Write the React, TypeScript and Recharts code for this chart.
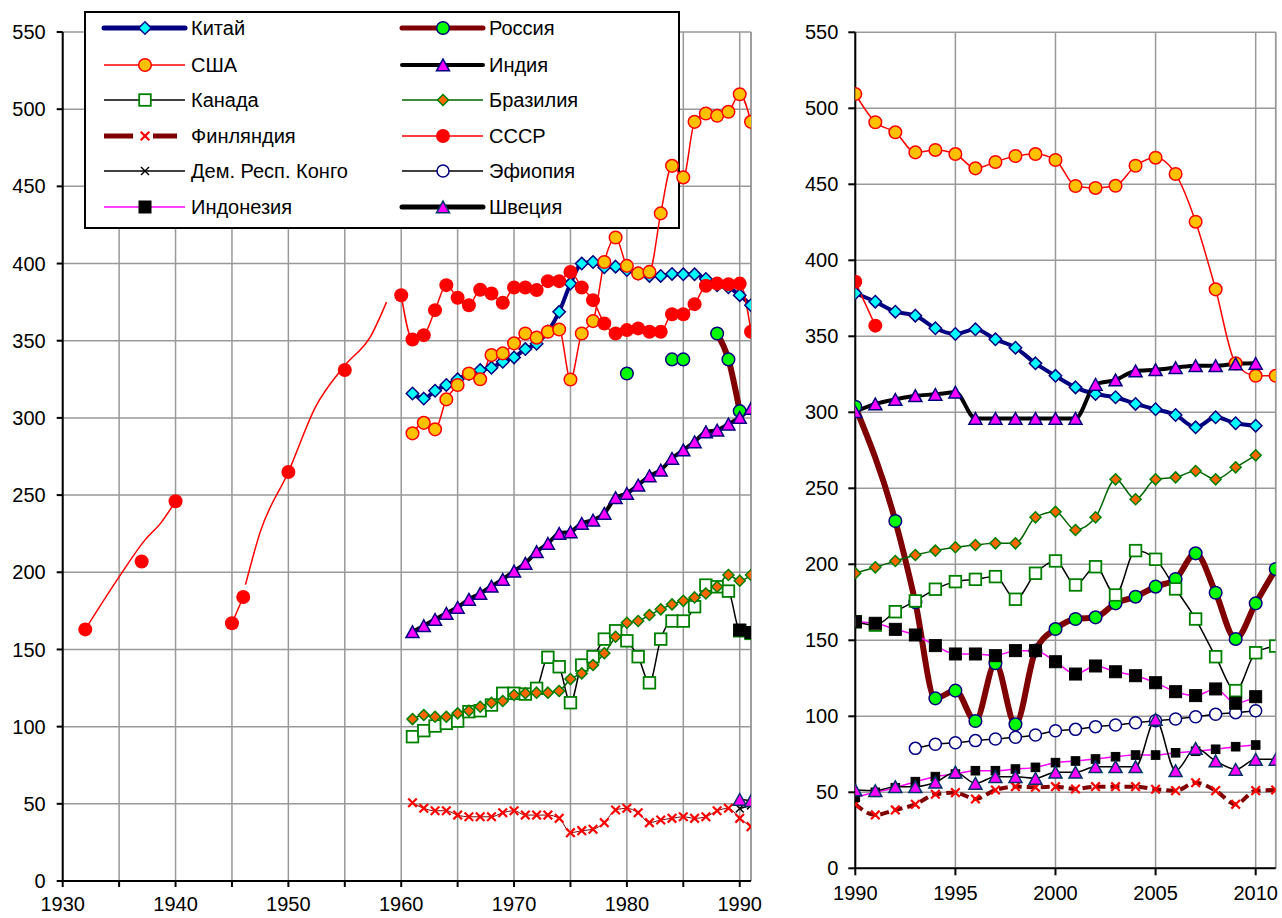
import React from 'react';
import { LineChart, Line, XAxis, YAxis, CartesianGrid, ReferenceLine } from 'recharts';

// ---------- data ----------
type Pt = { x: number; y: number | null };
const seq = (start: number, vals: (number | null)[]): Pt[] => vals.map((v, i) => ({ x: start + i, y: v }));
const pairs = (xs: number[], ys: number[]): Pt[] => xs.map((x, i) => ({ x, y: ys[i] }));

// Left panel (1930–1991)
const chinaL = [315.8, 312.5, 317.6, 321.3, 325, 328.5, 331, 332.5, 336.4, 339.2, 344.6, 348, 356, 368.7, 387, 400, 401, 397.6, 398, 395.8, 393.6, 392, 392, 393.3, 393, 393, 390, 386, 384.6, 379.5, 373]; // 1961–1991
const usaL = [290, 296.8, 292.6, 312, 321.3, 328.8, 325, 340.7, 341.8, 348.3, 354.7, 352, 355.8, 357.3, 324.9, 354.7, 362.7, 401, 416.9, 398.5, 393.6, 394.6, 432.5, 463.3, 455.8, 491.8, 497.2, 495.7, 498.3, 509.7, 491.8]; // 1961–1991
const russiaL = [328.8, null, null, null, 337.9, 337.9, null, null, 354.7, 337.9, 304.4]; // 1980–1990
const indiaL = [161.5, 165.4, 169.5, 173.4, 177.3, 182.5, 186.3, 191, 195.4, 200.8, 205.8, 213.3, 218.7, 225.2, 226.2, 231.7, 233.8, 238.2, 248.3, 251.1, 256.5, 262.5, 266.2, 273.8, 279.2, 284.5, 291, 292.1, 296, 300.3, 306.1]; // 1961–1991
const canadaL = [93.5, 97.4, 100.4, 102.1, 103.6, 109.7, 110.3, 114, 121.6, 121.6, 121.1, 124.8, 144.9, 138.8, 115.5, 139.9, 145.3, 156.7, 162.1, 155.6, 145.3, 128.4, 156.7, 168.4, 168.4, 177.7, 191.7, 190.6, 187.8, 162.1, 160.4]; // 1961–1991
const brazilL = [104.9, 107.5, 106.4, 106.4, 108.6, 110.3, 112.9, 115.5, 116.6, 120.5, 121.6, 122, 122, 123.1, 130.8, 134.5, 139.9, 147.5, 158.2, 167.3, 168.4, 172.3, 176, 179.2, 181.5, 183.7, 186.3, 190.6, 198.2, 194.5, 198.2]; // 1961–1991
const finlandL = [50.7, 47.1, 45.5, 45.5, 42.7, 41.6, 41.6, 41.6, 44.2, 45.5, 42.7, 42.7, 42.7, 40.6, 31.3, 32.6, 33.5, 37.8, 46, 47.1, 44.2, 37.8, 39.5, 40.6, 41.6, 40.6, 41.6, 45.5, 47.1, 40.6, 35.2]; // 1961–1991
const ussrL = [379.5, 350.8, 353.6, 369.8, 386, 377.8, 373, 383, 380.6, 374.6, 384.5, 384.5, 382.8, 388.6, 388.6, 394.6, 384.5, 376.3, 361.2, 354.7, 356.9, 358, 355.8, 355.8, 367.2, 367.2, 373.7, 385.6, 387, 386.6, 387, 355.8]; // 1960–1991
const ussrIsoYears = [1932, 1937, 1940, 1950, 1955];
const ussrIsoVals = [163, 207, 246, 265, 331];
const ussrWarYears = [1945, 1946];
const ussrWarVals = [167, 184];
const ussrTrend1Years = [1932, 1935, 1937.3, 1938.7, 1940];
const ussrTrend1Vals = [163, 197, 221, 232, 246];
const ussrTrend2Years = [1946.2, 1947.5, 1950, 1952.4, 1955, 1957.3, 1958.7];
const ussrTrend2Vals = [192, 226, 265, 307, 334, 353, 375];
const indonesiaL = [162.6, 161]; // 1990–1991
const swedenL = [52.9, 52]; // 1990–1991
const congoL = [47, 49]; // 1990–1991

// Right panel (1990–2011)
const usaR = [509.4, 490.8, 484.2, 471, 472.6, 469.9, 460.5, 464.7, 468.6, 469.9, 466, 448.9, 447.6, 449, 462.2, 467.5, 456.8, 425.4, 380.9, 332.2, 324, 324]; // 1990–2011
const chinaR = [378.3, 372.8, 366.2, 363.6, 355.3, 351.5, 354.6, 348, 342.5, 332.2, 324, 316.4, 312, 309.9, 305.5, 302, 298.2, 290.1, 296.7, 292.8, 291.2]; // 1990–2010
const russiaRYears = [1990, 1992, 1993, 1994, 1995, 1996, 1997, 1998, 1999, 2000, 2001, 2002, 2003, 2004, 2005, 2006, 2007, 2008, 2009, 2010, 2011];
const russiaRVals = [303.7, 228.5, 175, 111.8, 116.9, 96.9, 134.9, 94.7, 143.2, 157.4, 164, 165.1, 174.3, 178.7, 185.3, 190.3, 207.2, 181.3, 150.9, 174.3, 196.9];
const indiaR = [300.4, 305.5, 308.5, 310.9, 311.8, 313.2, 296, 296, 296, 296, 296, 296, 318.4, 321.3, 327.2, 328, 329.4, 330.7, 330.7, 331.8, 332.2]; // 1990–2010
const canadaR = [162.2, 160, 168.8, 175.9, 183.6, 188.6, 190.1, 191.9, 177, 194.1, 202.2, 186.4, 198.4, 179.8, 209, 203.3, 183.8, 164, 139.2, 116.9, 141.8, 146.2]; // 1990–2011
const brazilR = [194.1, 198, 202.2, 206.1, 209, 211.2, 212.7, 213.8, 213.8, 230.9, 234.6, 222.6, 230.9, 255.9, 242.8, 255.9, 257.2, 261.4, 255.9, 263.8, 271.7]; // 1990–2010
const finlandR = [42.1, 35.1, 38.4, 42.1, 48.7, 49.8, 45.6, 51.5, 53.7, 53.3, 53.7, 52.2, 53.7, 53.7, 53.7, 52, 51.1, 56.3, 51.1, 42.1, 51.1, 51.5]; // 1990–2011
const ussrR = [385.9, 357]; // 1990–1991
const ethiopiaR = [78.9, 81.6, 82.6, 84, 85.1, 86.2, 87.7, 90.5, 91.4, 93.2, 94.3, 95.8, 97.1, 98.2, 99.7, 101.3, 102.4, 103.7]; // 1993–2010
const indonesiaR = [162.2, 161.2, 157.2, 153.5, 146.5, 141, 141, 139.9, 143.2, 143.2, 135.9, 127.8, 133.1, 129.3, 126.7, 122.1, 116.2, 113.6, 118, 108.6, 112.9]; // 1990–2010
const indonesia2R = [46.7, 50, 53, 57, 60.3, 62, 64.2, 64.2, 65.3, 66.4, 69.5, 70.6, 71.9, 73.4, 74.5, 74.5, 76, 77, 78.3, 80, 81.1]; // 1990–2010
const swedenR = [51.5, 51.1, 53.7, 53.7, 56.6, 63.2, 55.9, 60.3, 60.3, 59.2, 63.2, 63.2, 66.8, 66.8, 66.8, 98, 64.2, 78.9, 70.6, 65.1, 71.7, 71.7]; // 1990–2011

const yTicks = [0, 50, 100, 150, 200, 250, 300, 350, 400, 450, 500, 550];
const xTicksL = [1930, 1935, 1940, 1945, 1950, 1955, 1960, 1965, 1970, 1975, 1980, 1985, 1990];
const xTicksR = [1990, 1995, 2000, 2005, 2010];

const legendLabels = ['Китай', 'Россия', 'США', 'Индия', 'Канада', 'Бразилия', 'Финляндия', 'СССР', 'Дем. Респ. Конго', 'Эфиопия', 'Индонезия', 'Швеция'];

// ---------- styles ----------
const FONT = '"Liberation Sans", Arial, sans-serif';
type Shape = 'circle' | 'diamond' | 'triangle' | 'square' | 'x';
type MStyle = { shape: Shape; size: number; fill: string; stroke: string; sw: number };

const M: Record<string, MStyle> = {
  china: { shape: 'diamond', size: 6.2, fill: '#00FFFF', stroke: '#000080', sw: 1.5 },
  russia: { shape: 'circle', size: 6.3, fill: '#00FF00', stroke: '#000080', sw: 1.5 },
  usa: { shape: 'circle', size: 6.3, fill: '#FFC000', stroke: '#FF0000', sw: 1.5 },
  india: { shape: 'triangle', size: 6.5, fill: '#FF00FF', stroke: '#000080', sw: 1.5 },
  canada: { shape: 'square', size: 5.8, fill: '#FFFFFF', stroke: '#008000', sw: 1.8 },
  brazil: { shape: 'diamond', size: 5.5, fill: '#FF6600', stroke: '#008000', sw: 1.5 },
  finland: { shape: 'x', size: 4.3, fill: 'none', stroke: '#FF0000', sw: 2.2 },
  ussr: { shape: 'circle', size: 7, fill: '#FF0000', stroke: 'none', sw: 0 },
  congo: { shape: 'x', size: 4, fill: 'none', stroke: '#000000', sw: 1.5 },
  ethiopia: { shape: 'circle', size: 6, fill: '#FFFFFF', stroke: '#000080', sw: 1.5 },
  indonesia: { shape: 'square', size: 6, fill: '#000000', stroke: '#000000', sw: 1 },
  indonesia2: { shape: 'square', size: 4.3, fill: '#000000', stroke: '#000000', sw: 1 },
  sweden: { shape: 'triangle', size: 6.5, fill: '#FF00FF', stroke: '#003366', sw: 1.5 },
};

function drawMarker(s: MStyle, cx: number, cy: number, key?: string) {
  const z = s.size;
  switch (s.shape) {
    case 'circle':
      return <circle key={key} cx={cx} cy={cy} r={z} fill={s.fill} stroke={s.stroke} strokeWidth={s.sw} />;
    case 'diamond':
      return <polygon key={key} points={`${cx},${cy - z} ${cx + z},${cy} ${cx},${cy + z} ${cx - z},${cy}`} fill={s.fill} stroke={s.stroke} strokeWidth={s.sw} />;
    case 'triangle': {
      const h = z * 0.9;
      return <polygon key={key} points={`${cx},${cy - h} ${cx + z},${cy + h} ${cx - z},${cy + h}`} fill={s.fill} stroke={s.stroke} strokeWidth={s.sw} />;
    }
    case 'square':
      return <rect key={key} x={cx - z} y={cy - z} width={2 * z} height={2 * z} fill={s.fill} stroke={s.stroke} strokeWidth={s.sw} />;
    case 'x':
      return (
        <g key={key} stroke={s.stroke} strokeWidth={s.sw}>
          <line x1={cx - z} y1={cy - z} x2={cx + z} y2={cy + z} />
          <line x1={cx - z} y1={cy + z} x2={cx + z} y2={cy - z} />
        </g>
      );
  }
  return <g key={key} />;
}

const dotFn = (s: MStyle, tag: string) => (p: any) => {
  const k = `${tag}-${p.index}`;
  if (p.cx == null || p.cy == null || p.value == null || (Array.isArray(p.value) && p.value[1] == null)) return <g key={k} />;
  if (p.payload && p.payload.y == null) return <g key={k} />;
  return drawMarker(s, p.cx, p.cy, k);
};

type SeriesDef = { key: string; data: Pt[]; m: MStyle | null; color: string; width: number; dash?: string };

const seriesLeft: SeriesDef[] = [
  { key: 'chinaL', data: seq(1961, chinaL), m: M.china, color: '#000080', width: 4 },
  { key: 'russiaL', data: seq(1980, russiaL), m: M.russia, color: '#800000', width: 6 },
  { key: 'usaL', data: seq(1961, usaL), m: M.usa, color: '#FF0000', width: 1.5 },
  { key: 'indiaL', data: seq(1961, indiaL), m: M.india, color: '#000000', width: 4 },
  { key: 'canadaL', data: seq(1961, canadaL), m: M.canada, color: '#000000', width: 1.5 },
  { key: 'brazilL', data: seq(1961, brazilL), m: M.brazil, color: '#006400', width: 1.5 },
  { key: 'finlandL', data: seq(1961, finlandL), m: M.finland, color: '#800000', width: 1 },
  { key: 'ussrTrend1', data: pairs(ussrTrend1Years, ussrTrend1Vals), m: null, color: '#FF0000', width: 1.5 },
  { key: 'ussrTrend2', data: pairs(ussrTrend2Years, ussrTrend2Vals), m: null, color: '#FF0000', width: 1.5 },
  { key: 'ussrIso', data: pairs(ussrIsoYears, ussrIsoVals), m: M.ussr, color: 'none', width: 0 },
  { key: 'ussrWar', data: pairs(ussrWarYears, ussrWarVals), m: M.ussr, color: '#FF0000', width: 1.5 },
  { key: 'ussrL', data: seq(1960, ussrL), m: M.ussr, color: '#FF0000', width: 1.5 },
  { key: 'congoL', data: seq(1990, congoL), m: M.congo, color: '#000000', width: 1.5 },
  { key: 'indonesiaL', data: seq(1990, indonesiaL), m: M.indonesia, color: '#FF00FF', width: 1.5 },
  { key: 'swedenL', data: seq(1990, swedenL), m: M.sweden, color: '#000000', width: 1.5 },
];

const seriesRight: SeriesDef[] = [
  { key: 'chinaR', data: seq(1990, chinaR), m: M.china, color: '#000080', width: 4 },
  { key: 'russiaR', data: pairs(russiaRYears, russiaRVals), m: M.russia, color: '#800000', width: 6 },
  { key: 'usaR', data: seq(1990, usaR), m: M.usa, color: '#FF0000', width: 1.5 },
  { key: 'indiaR', data: seq(1990, indiaR), m: M.india, color: '#000000', width: 4 },
  { key: 'canadaR', data: seq(1990, canadaR), m: M.canada, color: '#000000', width: 1.5 },
  { key: 'brazilR', data: seq(1990, brazilR), m: M.brazil, color: '#006400', width: 1.5 },
  { key: 'finlandR', data: seq(1990, finlandR), m: M.finland, color: '#800000', width: 4, dash: '9 5' },
  { key: 'ussrR', data: seq(1990, ussrR), m: M.ussr, color: '#FF0000', width: 1.5 },
  { key: 'ethiopiaR', data: seq(1993, ethiopiaR), m: M.ethiopia, color: '#000000', width: 1.5 },
  { key: 'indonesiaR', data: seq(1990, indonesiaR), m: M.indonesia, color: '#FF00FF', width: 1.5 },
  { key: 'indonesia2R', data: seq(1990, indonesia2R), m: M.indonesia2, color: '#FF00FF', width: 1.5 },
  { key: 'swedenR', data: seq(1990, swedenR), m: M.sweden, color: '#000000', width: 1.5 },
];

const tickStyle = { fontSize: 20, fill: '#000', fontFamily: FONT };
const axisStyle = { stroke: '#000', strokeWidth: 2 };

function renderSeries(list: SeriesDef[]) {
  return list.map((s) => (
    <Line
      key={s.key}
      data={s.data}
      dataKey="y"
      type="monotone"
      stroke={s.color}
      strokeWidth={s.width}
      strokeDasharray={s.dash}
      dot={s.m ? dotFn(s.m, s.key) : false}
      activeDot={false}
      connectNulls={false}
      isAnimationActive={false}
      legendType="none"
    />
  ));
}

// ---------- legend ----------
type LegItem = { label: string; m: MStyle; color: string; width: number; dashed?: boolean };
const legendItems: LegItem[] = [
  { label: legendLabels[0], m: M.china, color: '#000080', width: 5 },
  { label: legendLabels[1], m: M.russia, color: '#800000', width: 5 },
  { label: legendLabels[2], m: M.usa, color: '#FF0000', width: 1.5 },
  { label: legendLabels[3], m: M.india, color: '#000000', width: 4 },
  { label: legendLabels[4], m: M.canada, color: '#000000', width: 1.5 },
  { label: legendLabels[5], m: M.brazil, color: '#006400', width: 1.5 },
  { label: legendLabels[6], m: M.finland, color: '#800000', width: 5, dashed: true },
  { label: legendLabels[7], m: M.ussr, color: '#FF0000', width: 1.5 },
  { label: legendLabels[8], m: M.congo, color: '#000000', width: 1.5 },
  { label: legendLabels[9], m: M.ethiopia, color: '#000000', width: 1.5 },
  { label: legendLabels[10], m: M.indonesia, color: '#FF00FF', width: 1.5 },
  { label: legendLabels[11], m: M.sweden, color: '#000000', width: 5 },
];

function Legend() {
  const rowY = [28, 65, 100, 136, 171, 207];
  const colX = [104, 402];
  return (
    <svg width={780} height={240} style={{ position: 'absolute', left: 0, top: 0, pointerEvents: 'none' }}>
      <rect x={85} y={12} width={594} height={216} fill="#fff" stroke="#000" strokeWidth={2} />
      {legendItems.map((it, i) => {
        const row = Math.floor(i / 2);
        const col = i % 2;
        const x0 = colX[col];
        const y = rowY[row];
        const mx = x0 + 41;
        return (
          <g key={it.label}>
            {it.dashed ? (
              <g stroke={it.color} strokeWidth={it.width}>
                <line x1={x0} y1={y} x2={x0 + 29} y2={y} />
                <line x1={x0 + 49} y1={y} x2={x0 + 73} y2={y} />
              </g>
            ) : (
              <line x1={x0} y1={y} x2={x0 + 81} y2={y} stroke={it.color} strokeWidth={it.width} strokeLinecap={it.width > 3 ? 'round' : 'butt'} />
            )}
            {drawMarker(it.m, mx, y)}
            <text x={x0 + 87} y={y + 7} fontSize={20} fontFamily={FONT} fill="#000">{it.label}</text>
          </g>
        );
      })}
    </svg>
  );
}

export default function App() {
  return (
    <div style={{ position: 'absolute', left: 0, top: 0, width: 1282, height: 918, background: '#fff' }}>
      {/* left panel: grid and axes */}
      <div style={{ position: 'absolute', left: 0, top: 0 }}>
        <LineChart width={780} height={918} margin={{ top: 32, right: 29, bottom: 7, left: 12.7 }}>
          <CartesianGrid stroke="#999" strokeWidth={1.5} />
          <XAxis
            dataKey="x"
            type="number"
            domain={[1930, 1991]}
            ticks={xTicksL}
            tickFormatter={(v: number) => (v % 10 === 0 ? String(v) : '')}
            allowDataOverflow
            height={30}
            tick={tickStyle}
            tickSize={6}
            tickMargin={10}
            axisLine={axisStyle}
            tickLine={axisStyle}
            interval={0}
          />
          <YAxis
            type="number"
            domain={[0, 550]}
            ticks={yTicks}
            allowDataOverflow
            width={50}
            tick={tickStyle}
            tickSize={6}
            tickMargin={11}
            axisLine={axisStyle}
            tickLine={axisStyle}
            interval={0}
          />
          <ReferenceLine x={1991} stroke="#999" strokeWidth={1.5} />
        </LineChart>
      </div>
      <Legend />
      {/* left panel: series drawn above the legend */}
      <div style={{ position: 'absolute', left: 0, top: 0 }}>
        <LineChart width={780} height={918} margin={{ top: 32, right: 29, bottom: 37, left: 62.7 }}>
          <XAxis dataKey="x" type="number" domain={[1930, 1991]} allowDataOverflow hide />
          <YAxis type="number" domain={[0, 550]} allowDataOverflow hide />
          {renderSeries(seriesLeft)}
        </LineChart>
      </div>
      {/* right panel */}
      <div style={{ position: 'absolute', left: 780, top: 0 }}>
        <LineChart width={502} height={918} margin={{ top: 32.3, right: 6.3, bottom: 19.7, left: 15.3 }}>
          <CartesianGrid stroke="#999" strokeWidth={1.5} />
          <XAxis
            dataKey="x"
            type="number"
            domain={[1990, 2011]}
            ticks={xTicksR}
            allowDataOverflow
            height={30}
            tick={tickStyle}
            tickSize={7}
            tickMargin={10}
            axisLine={axisStyle}
            tickLine={axisStyle}
            interval={0}
          />
          <YAxis
            type="number"
            domain={[0, 550]}
            ticks={yTicks}
            allowDataOverflow
            width={60}
            tick={tickStyle}
            tickSize={7}
            tickMargin={10}
            axisLine={axisStyle}
            tickLine={axisStyle}
            interval={0}
          />
          <ReferenceLine x={2011} stroke="#999" strokeWidth={1.5} />
          {renderSeries(seriesRight)}
        </LineChart>
      </div>
    </div>
  );
}
